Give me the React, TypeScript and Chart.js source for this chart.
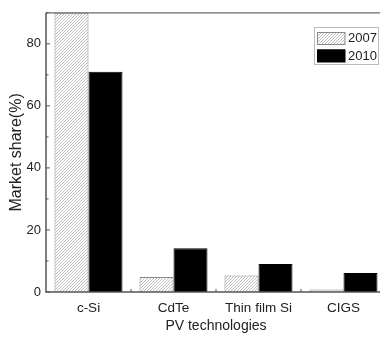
import { useEffect, useRef } from 'react';
import { Chart, registerables } from 'chart.js';

Chart.register(...registerables);

// PV technology market share, 2007 vs 2010
const categories = ['c-Si', 'CdTe', 'Thin film Si', 'CIGS'];
const seriesLabels = ['2007', '2010'];
const share2007 = [90, 4.8, 5.3, 0.8];
const share2010 = [71, 14.1, 9.0, 6.1];
const yMin = 0;
const yMax = 90;
const yStep = 20;

const FONT = 'Arial, "Liberation Sans", Helvetica, sans-serif';

function makeHatch(): CanvasPattern | string {
  const n = 3;
  const c = document.createElement('canvas');
  c.width = n;
  c.height = n;
  const g = c.getContext('2d');
  if (!g) return '#ddd';
  g.fillStyle = '#ffffff';
  g.fillRect(0, 0, n, n);
  g.strokeStyle = '#b4b4b4';
  g.lineWidth = 0.9;
  g.beginPath();
  g.moveTo(0, n);
  g.lineTo(n, 0);
  g.moveTo(-1, 1);
  g.lineTo(1, -1);
  g.moveTo(n - 1, n + 1);
  g.lineTo(n + 1, n - 1);
  g.stroke();
  return g.createPattern(c, 'repeat') || '#ddd';
}

// Axis frame with inward major/minor ticks, plus the boxed legend
const framePlugin = {
  id: 'frame',
  afterDatasetsDraw(chart: any) {
    const { ctx, chartArea: a, scales } = chart;
    const ys = scales.y;
    const xs = scales.x;
    ctx.save();

    // top border
    ctx.strokeStyle = '#6a6a6a';
    ctx.lineWidth = 1.2;
    ctx.beginPath();
    ctx.moveTo(a.left, a.top);
    ctx.lineTo(a.right + 2, a.top);
    ctx.stroke();

    // left and bottom axes
    ctx.strokeStyle = '#555';
    ctx.lineWidth = 1.5;
    ctx.beginPath();
    ctx.moveTo(a.left, a.top);
    ctx.lineTo(a.left, a.bottom);
    ctx.lineTo(a.right + 2, a.bottom);
    ctx.stroke();

    // y ticks (major + minor halfway)
    ctx.lineWidth = 1;
    const vals: number[] = ys.ticks.map((t: any) => t.value);
    ctx.beginPath();
    vals.forEach((v, i) => {
      const py = ys.getPixelForValue(v);
      ctx.moveTo(a.left, py);
      ctx.lineTo(a.left + 4, py);
      const mid = i + 1 < vals.length ? (v + vals[i + 1]) / 2 : v + (vals[1] - vals[0]) / 2;
      if (mid <= ys.max) {
        const pm = ys.getPixelForValue(mid);
        ctx.moveTo(a.left, pm);
        ctx.lineTo(a.left + 2.5, pm);
      }
    });
    // x ticks at category boundaries
    for (let i = 0; i < categories.length; i++) {
      const px = xs.getPixelForValue(i + 0.5);
      ctx.moveTo(px, a.bottom);
      ctx.lineTo(px, a.bottom - 3);
    }
    ctx.stroke();

    // legend
    const lx = 314;
    const ly = 27;
    ctx.fillStyle = '#fff';
    ctx.fillRect(lx, ly, 64, 37);
    ctx.strokeStyle = '#bbb';
    ctx.lineWidth = 1;
    ctx.strokeRect(lx + 0.5, ly + 0.5, 64, 37);
    chart.data.datasets.forEach((ds: any, i: number) => {
      const sy = ly + 5 + i * 17.5;
      ctx.fillStyle = ds.backgroundColor;
      ctx.fillRect(lx + 3, sy, 28, 12.5);
      ctx.strokeStyle = ds.borderColor;
      ctx.strokeRect(lx + 3.5, sy + 0.5, 27.5, 12);
      ctx.fillStyle = '#222';
      ctx.font = `13px ${FONT}`;
      ctx.textBaseline = 'middle';
      ctx.textAlign = 'left';
      ctx.fillText(ds.label, lx + 34, sy + 6.5);
    });
    ctx.restore();
  },
};

export default function App() {
  const ref = useRef<HTMLCanvasElement>(null);

  useEffect(() => {
    if (!ref.current) return;
    const hatch = makeHatch();
    const chart = new Chart(ref.current, {
      type: 'bar',
      data: {
        labels: categories,
        datasets: [
          {
            label: seriesLabels[0],
            data: share2007,
            backgroundColor: hatch as any,
            borderColor: '#8a8a8a',
            borderWidth: 1,
          },
          {
            label: seriesLabels[1],
            data: share2010,
            backgroundColor: '#000',
            borderColor: '#000',
            borderWidth: 1,
          },
        ],
      },
      options: {
        responsive: false,
        animation: false,
        layout: { padding: { left: 0, top: 6, right: 14, bottom: 0 } },
        plugins: { legend: { display: false }, tooltip: { enabled: false } },
        datasets: { bar: { categoryPercentage: 0.8, barPercentage: 1 } },
        scales: {
          x: {
            grid: { display: false, drawTicks: false },
            border: { display: false },
            ticks: { color: '#222', padding: 8, font: { family: FONT, size: 13.5 } },
            title: {
              display: true,
              text: 'PV technologies',
              color: '#222',
              font: { family: FONT, size: 14 },
              padding: { top: 0, bottom: 5 },
            },
            afterFit: (s: any) => {
              s.height = 48;
            },
          },
          y: {
            min: yMin,
            max: yMax,
            grid: { display: false, drawTicks: false },
            border: { display: false },
            ticks: { stepSize: yStep, color: '#222', padding: 5, font: { family: FONT, size: 13 } },
            afterBuildTicks: (s: any) => {
              s.ticks = s.ticks.filter((t: any) => t.value % yStep === 0);
            },
            title: {
              display: true,
              text: 'Market share(%)',
              color: '#222',
              font: { family: FONT, size: 16 },
              padding: { top: 7, bottom: 0 },
            },
            afterFit: (s: any) => {
              s.width = 46;
            },
          },
        },
      },
      plugins: [framePlugin],
    });
    return () => chart.destroy();
  }, []);

  return (
    <div style={{ position: 'fixed', left: 0, top: 0, width: 380, height: 340, overflow: 'hidden', background: '#fff' }}>
      <canvas ref={ref} width={400} height={340} style={{ display: 'block' }} />
    </div>
  );
}
